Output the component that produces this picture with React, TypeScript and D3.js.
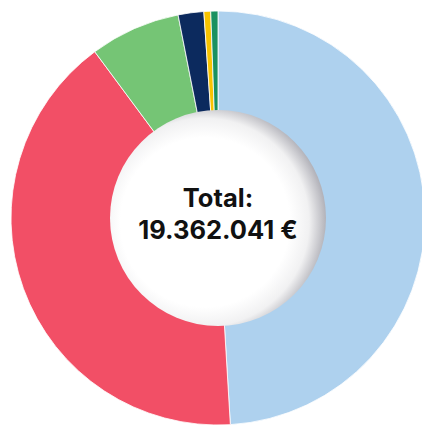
import React from "react";
import * as d3 from "d3";

const categories = ["A", "B", "C", "D", "E", "F"];
const values = [9497081, 7899713, 1366960, 387241, 102619, 108427];
const colors = ["#aed1ee", "#f24f66", "#75c575", "#0c2a5e", "#f8c300", "#1a9160"];
const totalLabel = "Total:";

const W = 422;
const H = 425;
const cx = 218;
const cy = 218;
const R = 207;
const r = 108;

const fmt = d3.formatLocale({ decimal: ",", thousands: ".", grouping: [3], currency: ["", " €"] });

export default function App() {
  const data = categories.map((c, i) => ({ c, v: values[i], color: colors[i] }));
  const pie = d3.pie<any>().value((d) => d.v).sort(null);
  const arcs = pie(data);
  const arcGen = d3.arc<any>().innerRadius(r - 2).outerRadius(R);
  const total = d3.sum(values);
  return (
    <svg width={W} height={H} style={{ position: "absolute", left: 0, top: 0 }}>
      <defs>
        <radialGradient id="inner" cx="0.44" cy="0.52" r="0.56" fx="0.44" fy="0.52">
          <stop offset="0" stopColor="#ffffff" />
          <stop offset="0.7" stopColor="#ffffff" />
          <stop offset="0.86" stopColor="#f1f1f2" />
          <stop offset="1" stopColor="#b3b3ba" />
        </radialGradient>
      </defs>
      <g transform={`translate(${cx},${cy})`}>
        {arcs.map((a, i) => (
          <path key={i} d={arcGen(a) || ""} fill={a.data.color} stroke="#ffffff" strokeWidth={0.8} />
        ))}
        <circle r={r} fill="url(#inner)" />
        <text
          y={-11}
          textAnchor="middle"
          fontFamily="Inter, sans-serif"
          fontWeight={700}
          fontSize={25.5}
          fill="#111"
        >
          {totalLabel}
        </text>
        <text
          y={21}
          textAnchor="middle"
          fontFamily="Inter, sans-serif"
          fontWeight={700}
          fontSize={25.5}
          fill="#111"
        >
          {fmt.format("$,")(total)}
        </text>
      </g>
    </svg>
  );
}
